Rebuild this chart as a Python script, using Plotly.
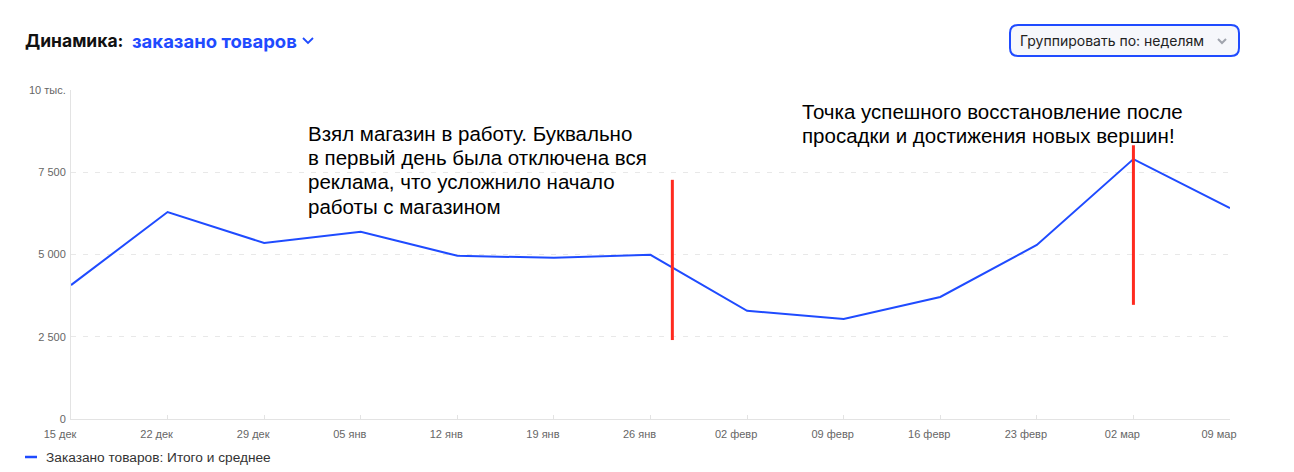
import plotly.graph_objects as go

weeks = ["2024-12-15", "2024-12-22", "2024-12-29", "2025-01-05", "2025-01-12", "2025-01-19",
         "2025-01-26", "2025-02-02", "2025-02-09", "2025-02-16", "2025-02-23", "2025-03-02", "2025-03-09"]
week_labels = ["15 дек", "22 дек", "29 дек", "05 янв", "12 янв", "19 янв", "26 янв",
               "02 февр", "09 февр", "16 февр", "23 февр", "02 мар", "09 мар"]
orders = [4070, 6290, 5350, 5690, 4960, 4900, 4990, 3290, 3040, 3710, 5290, 7900, 6410]

y_ticks = [0, 2500, 5000, 7500, 10000]
y_tick_labels = ["0", "2 500", "5 000", "7 500", "10 тыс."]

markers_x = ["2025-01-27 14:00", "2025-03-02"]
markers_lo = [2400, 3470]
markers_hi = [7270, 8320]

note1_lines = ["Взял магазин в работу. Буквально",
               "в первый день была отключена вся",
               "реклама, что усложнило начало",
               "работы с магазином"]
note2_lines = ["Точка успешного восстановление после",
               "просадки и достижения новых вершин!"]

BLUE = "#1f4bff"
RED = "#ff2a1f"

fig = go.Figure()
fig.add_trace(go.Scatter(x=weeks, y=orders, mode="lines",
                         line=dict(color=BLUE, width=2),
                         name="Заказано товаров: Итого и среднее",
                         showlegend=False, hoverinfo="x+y"))

for mx, lo, hi in zip(markers_x, markers_lo, markers_hi):
    fig.add_shape(type="line", xref="x", yref="y", x0=mx, x1=mx, y0=lo, y1=hi,
                  line=dict(color=RED, width=3))

W, H = 1294, 472
L, R, T, B = 71, 64, 90, 53
pw, ph = W - L - R, H - T - B


def px(x):
    return (x - L) / pw


def py(y):
    return (H - B - y) / ph


# Title
fig.add_annotation(xref="paper", yref="paper", x=px(23), y=py(41), xanchor="left", yanchor="middle",
                   text="<b>Динамика:</b>", showarrow=False,
                   font=dict(family="Inter", size=17.5, color="#111111"))
fig.add_annotation(xref="paper", yref="paper", x=px(130), y=py(41), xanchor="left", yanchor="middle",
                   text="<b>заказано товаров</b>", showarrow=False,
                   font=dict(family="Inter", size=18.5, color=BLUE))
# chevron
fig.add_shape(type="path", xref="paper", yref="paper",
              path=f"M {px(303)} {py(38)} L {px(308)} {py(43)} L {px(313)} {py(38)}",
              line=dict(color=BLUE, width=1.8))

# Group-by button (rounded rectangle)
x0, x1, y0, y1, r = 1010, 1239, 25, 56, 8
pts = (f"M {px(x0 + r)} {py(y0)} L {px(x1 - r)} {py(y0)} Q {px(x1)} {py(y0)} {px(x1)} {py(y0 + r)} "
       f"L {px(x1)} {py(y1 - r)} Q {px(x1)} {py(y1)} {px(x1 - r)} {py(y1)} "
       f"L {px(x0 + r)} {py(y1)} Q {px(x0)} {py(y1)} {px(x0)} {py(y1 - r)} "
       f"L {px(x0)} {py(y0 + r)} Q {px(x0)} {py(y0)} {px(x0 + r)} {py(y0)} Z")
fig.add_shape(type="path", xref="paper", yref="paper", path=pts,
              line=dict(color=BLUE, width=2), fillcolor="#f6f7fb", layer="below")
fig.add_annotation(xref="paper", yref="paper", x=px(1018), y=py(41), xanchor="left", yanchor="middle",
                   text="Группировать по: неделям", showarrow=False,
                   font=dict(family="Inter", size=14, color="#222222"))
fig.add_shape(type="path", xref="paper", yref="paper",
              path=f"M {px(1218)} {py(39)} L {px(1222)} {py(43)} L {px(1226)} {py(39)}",
              line=dict(color="#a0a4ad", width=2))

# Notes (one annotation per line to control spacing)
for i, line in enumerate(note1_lines):
    fig.add_annotation(xref="paper", yref="paper", x=px(306), y=py(133 + 24.4 * i),
                       xanchor="left", yanchor="middle", text=line, showarrow=False,
                       font=dict(family="Liberation Sans, Arial", size=20.5, color="#000000"))
for i, line in enumerate(note2_lines):
    fig.add_annotation(xref="paper", yref="paper", x=px(800), y=py(111 + 24.4 * i),
                       xanchor="left", yanchor="middle", text=line, showarrow=False,
                       font=dict(family="Liberation Sans, Arial", size=20.5, color="#000000"))

# Legend (manual)
fig.add_shape(type="line", xref="paper", yref="paper", x0=px(25), x1=px(37), y0=py(457), y1=py(457),
              line=dict(color=BLUE, width=2.5))
fig.add_annotation(xref="paper", yref="paper", x=px(44), y=py(457), xanchor="left", yanchor="middle",
                   text="Заказано товаров: Итого и среднее", showarrow=False,
                   font=dict(family="Liberation Sans, Arial", size=13.7, color="#333333"))

fig.update_layout(
    width=W, height=H,
    margin=dict(l=L, r=R, t=T, b=B),
    paper_bgcolor="white", plot_bgcolor="white",
    showlegend=False,
)
fig.update_xaxes(
    range=[weeks[0], weeks[-1]], tickmode="array", tickvals=weeks, ticktext=week_labels,
    showgrid=False, zeroline=False, showline=True, linecolor="#e3e3e3", linewidth=1,
    ticks="inside", ticklen=4, tickcolor="#e3e3e3", ticklabelstandoff=5, ticklabelshift=-11,
    tickfont=dict(family="Liberation Sans, Arial", size=11, color="#666666"),
)
fig.update_yaxes(
    range=[0, 10000], tickmode="array", tickvals=y_ticks, ticktext=y_tick_labels,
    showgrid=True, gridcolor="#e8e8e8", griddash="5px,7px", gridwidth=1,
    zeroline=False, showline=True, linecolor="#e3e3e3", linewidth=1,
    ticks="", ticklabelstandoff=2,
    tickfont=dict(family="Liberation Sans, Arial", size=11, color="#666666"),
)

fig.write_html("out.html", config={"displayModeBar": False},
               post_script="document.body.style.margin='0';")
